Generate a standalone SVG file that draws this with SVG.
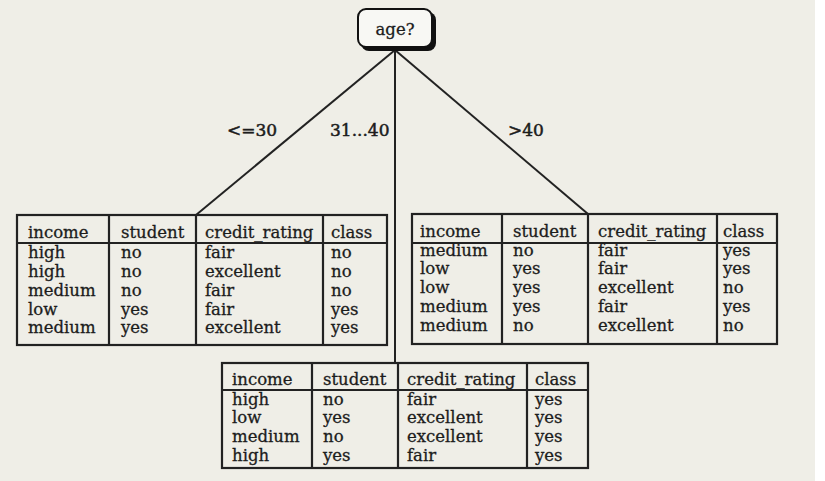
<svg xmlns="http://www.w3.org/2000/svg" width="825" height="481" viewBox="0 0 825 481">
<style>
.t{font-family:"DejaVu Serif","Liberation Serif",serif;font-size:16.5px;fill:#1c1c1c;stroke:#1c1c1c;stroke-width:0.3}
.lb{font-family:"DejaVu Serif","Liberation Serif",serif;font-size:17px;fill:#1c1c1c;stroke:#1c1c1c;stroke-width:0.5}
.tb{fill:none;stroke:#222;stroke-width:2.2}
.ln{stroke:#222;stroke-width:2;fill:none}
</style>
<rect x="0" y="0" width="825" height="481" fill="#ffffff"/>
<rect x="0" y="0" width="815" height="481" fill="#efeee7"/>
<g id="connectors">
<line class="ln" x1="395" y1="50" x2="196" y2="215"/>
<line class="ln" x1="395" y1="50" x2="395" y2="363"/>
<line class="ln" x1="395" y1="50" x2="588" y2="214"/>
<text class="lb" x="227" y="136">&lt;=30</text>
<text class="lb" x="330" y="136">31...40</text>
<text class="lb" x="508" y="136">&gt;40</text>
</g>
<g id="root">
<rect x="361" y="12" width="75" height="39" rx="8" fill="#111"/>
<rect x="358" y="9" width="74" height="38" rx="8" fill="#f8f8f4" stroke="#111" stroke-width="2"/>
<text class="t" x="395" y="35" text-anchor="middle" font-size="16.5">age?</text>
</g>
<g id="table-left">
<rect class="tb" x="17" y="215" width="370" height="130"/>
<path class="tb" d="M109 215V345M196 215V345M323 215V345M17 243H387"/>
<g class="t">
<text x="28" y="238">income</text><text x="121" y="238">student</text><text x="205" y="238">credit_rating</text><text x="331" y="238">class</text>
<text x="28" y="258">high</text><text x="121" y="258">no</text><text x="205" y="258">fair</text><text x="331" y="258">no</text>
<text x="28" y="277">high</text><text x="121" y="277">no</text><text x="205" y="277">excellent</text><text x="331" y="277">no</text>
<text x="28" y="296">medium</text><text x="121" y="296">no</text><text x="205" y="296">fair</text><text x="331" y="296">no</text>
<text x="28" y="315">low</text><text x="121" y="315">yes</text><text x="205" y="315">fair</text><text x="331" y="315">yes</text>
<text x="28" y="333">medium</text><text x="121" y="333">yes</text><text x="205" y="333">excellent</text><text x="331" y="333">yes</text>
</g>
</g>
<g id="table-right">
<rect class="tb" x="412" y="214" width="365" height="130"/>
<path class="tb" d="M502 214V344M588 214V344M717 214V344M412 243H777"/>
<g class="t">
<text x="420" y="237">income</text><text x="513" y="237">student</text><text x="598" y="237">credit_rating</text><text x="723" y="237">class</text>
<text x="420" y="256">medium</text><text x="513" y="256">no</text><text x="598" y="256">fair</text><text x="723" y="256">yes</text>
<text x="420" y="274">low</text><text x="513" y="274">yes</text><text x="598" y="274">fair</text><text x="723" y="274">yes</text>
<text x="420" y="293">low</text><text x="513" y="293">yes</text><text x="598" y="293">excellent</text><text x="723" y="293">no</text>
<text x="420" y="312">medium</text><text x="513" y="312">yes</text><text x="598" y="312">fair</text><text x="723" y="312">yes</text>
<text x="420" y="331">medium</text><text x="513" y="331">no</text><text x="598" y="331">excellent</text><text x="723" y="331">no</text>
</g>
</g>
<g id="table-bottom">
<rect class="tb" x="222" y="363" width="366" height="105"/>
<path class="tb" d="M312 363V468M398 363V468M527 363V468M222 390H588"/>
<g class="t">
<text x="232" y="385">income</text><text x="323" y="385">student</text><text x="407" y="385">credit_rating</text><text x="535" y="385">class</text>
<text x="232" y="405">high</text><text x="323" y="405">no</text><text x="407" y="405">fair</text><text x="535" y="405">yes</text>
<text x="232" y="423">low</text><text x="323" y="423">yes</text><text x="407" y="423">excellent</text><text x="535" y="423">yes</text>
<text x="232" y="442">medium</text><text x="323" y="442">no</text><text x="407" y="442">excellent</text><text x="535" y="442">yes</text>
<text x="232" y="461">high</text><text x="323" y="461">yes</text><text x="407" y="461">fair</text><text x="535" y="461">yes</text>
</g>
</g>
</svg>
